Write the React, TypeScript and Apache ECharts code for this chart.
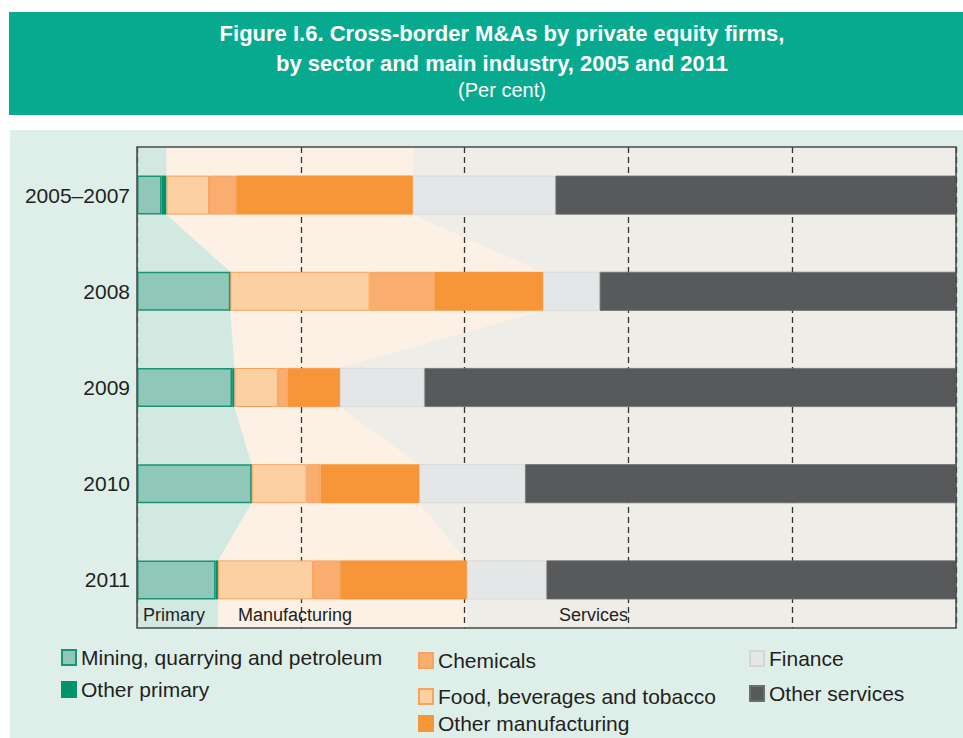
import React, { useEffect, useRef } from "react";
import * as echarts from "echarts";

const categories = ["2005–2007", "2008", "2009", "2010", "2011"];
const mining = [3.0, 11.4, 11.6, 14.0, 9.6];
const otherPrimary = [0.6, 0.0, 0.3, 0.0, 0.3];
const food = [5.2, 17.0, 5.3, 6.7, 11.6];
const chemicals = [3.3, 7.9, 1.2, 1.7, 3.3];
const otherManufacturing = [21.6, 13.3, 6.4, 12.1, 15.5];
const finance = [17.4, 6.9, 10.3, 12.9, 9.7];
const otherServices = [48.9, 43.5, 64.9, 52.6, 50.0];

const sectorLabels = ["Primary", "Manufacturing", "Services"];
const xTicks = [0, 20, 40, 60, 80, 100];

const FONT = "'Liberation Sans', Arial, Helvetica, sans-serif";
const BAR = 39;

export default function App() {
  const ref = useRef<HTMLDivElement>(null);
  useEffect(() => {
    if (!ref.current) return;
    const chart = echarts.init(ref.current, null, { renderer: "svg" });

    const primaryEnd = mining.map((v, i) => v + otherPrimary[i]);
    const mfgEnd = primaryEnd.map((v, i) => v + food[i] + chemicals[i] + otherManufacturing[i]);
    const total = mfgEnd.map((v, i) => v + finance[i] + otherServices[i]);
    const lefts = [mining.map(() => 0), primaryEnd, mfgEnd];
    const rights = [primaryEnd, mfgEnd, total];
    const regionColors = ["#d2e9e2", "#fdf1e5", "#efede7"];

    const renderRegion = (params: any, api: any) => {
      const r = api.value(2);
      const cs = params.coordSys;
      const top = cs.y;
      const bottom = cs.y + cs.height;
      const n = categories.length;
      const side = (vals: number[]) => {
        const pts: number[][] = [];
        for (let i = 0; i < n; i++) {
          const p = api.coord([vals[i], i]);
          if (i === 0) pts.push([p[0], top]);
          pts.push([p[0], p[1] - BAR / 2]);
          pts.push([p[0], p[1] + BAR / 2]);
          if (i === n - 1) pts.push([p[0], bottom]);
        }
        return pts;
      };
      const leftPts = side(lefts[r]);
      const rightPts = side(rights[r]).reverse();
      return {
        type: "polygon",
        shape: { points: leftPts.concat(rightPts) },
        style: { fill: regionColors[r] },
        silent: true,
      };
    };

    const barSeries = (name: string, data: number[], color: string, border: string, bw: number) => ({
      name,
      type: "bar",
      stack: "total",
      data,
      barWidth: BAR,
      z: 2,
      itemStyle: { color, borderColor: border, borderWidth: bw },
      emphasis: { disabled: true },
    });

    const legendBase = {
      icon: "rect",
      itemWidth: 14,
      itemHeight: 15,
      padding: 0,
      selectedMode: false,
      textStyle: { fontSize: 21, color: "#231f20", fontFamily: FONT },
    };

    chart.setOption({
      animation: false,
      backgroundColor: "#ffffff",
      title: {
        text: "Figure I.6. Cross-border M&As by private equity firms,\nby sector and main industry, 2005 and 2011",
        subtext: "(Per cent)",
        left: 497,
        textAlign: "center",
        top: 13,
        itemGap: 1,
        textStyle: { color: "#ffffff", fontSize: 22, fontWeight: "bold", lineHeight: 30, fontFamily: FONT },
        subtextStyle: { color: "#ffffff", fontSize: 20, lineHeight: 22, fontFamily: FONT },
      },
      graphic: [
        { type: "rect", z: -100, shape: { x: 9, y: 12, width: 954, height: 103 }, style: { fill: "#07aa8e" }, silent: true },
        { type: "rect", z: -100, shape: { x: 10, y: 130, width: 953, height: 608 }, style: { fill: "#deefe9" }, silent: true },
        { type: "text", z: 100, x: 143, y: 615, style: { text: sectorLabels[0], fontSize: 18, fill: "#231f20", fontFamily: FONT, textVerticalAlign: "middle", textAlign: "left" } },
        { type: "text", z: 100, x: 238, y: 615, style: { text: sectorLabels[1], fontSize: 18, fill: "#231f20", fontFamily: FONT, textVerticalAlign: "middle", textAlign: "left" } },
        { type: "text", z: 100, x: 628, y: 615, style: { text: sectorLabels[2], fontSize: 18, fill: "#231f20", fontFamily: FONT, textVerticalAlign: "middle", textAlign: "right" } },
      ],
      grid: {
        left: 137,
        right: 7,
        top: 147,
        bottom: 110,
        show: true,
        z: 3,
        backgroundColor: "transparent",
        borderColor: "#4a4a4a",
        borderWidth: 1.5,
      },
      xAxis: {
        type: "value",
        min: xTicks[0],
        max: xTicks[xTicks.length - 1],
        interval: 20,
        z: 1.5,
        axisLabel: { show: false },
        axisTick: { show: false },
        axisLine: { show: false },
        splitLine: { show: true, lineStyle: { color: "#333333", width: 1.3, type: [6, 4] } },
      },
      yAxis: {
        type: "category",
        inverse: true,
        data: categories,
        z: 1.5,
        axisTick: { show: false },
        axisLine: { show: true, lineStyle: { color: "#8a8a8a", width: 1 } },
        axisLabel: { fontSize: 21, color: "#231f20", margin: 7, fontFamily: FONT },
        splitLine: { show: false },
      },
      legend: [
        { ...legendBase, data: ["Mining, quarrying and petroleum"], left: 61, top: 647 },
        { ...legendBase, data: ["Other primary"], left: 61, top: 679 },
        { ...legendBase, data: ["Chemicals"], left: 418, top: 650 },
        { ...legendBase, data: ["Food, beverages and tobacco"], left: 418, top: 686 },
        { ...legendBase, data: ["Other manufacturing"], left: 418, top: 713 },
        { ...legendBase, data: ["Finance"], left: 749, top: 648 },
        { ...legendBase, data: ["Other services"], left: 749, top: 683 },
      ],
      series: [
        {
          type: "custom",
          name: "regions",
          z: 1,
          silent: true,
          clip: false,
          renderItem: renderRegion,
          encode: { x: 0, y: 1 },
          data: [
            [0, 0, 0],
            [0, 0, 1],
            [0, 0, 2],
          ],
        },
        barSeries("Mining, quarrying and petroleum", mining, "#8fc8b9", "#1a9474", 1.5),
        barSeries("Other primary", otherPrimary, "#00936f", "#00936f", 0.5),
        barSeries("Food, beverages and tobacco", food, "#fdd0a4", "#f7a35c", 1),
        barSeries("Chemicals", chemicals, "#f9ae6f", "#f8a35f", 1),
        barSeries("Other manufacturing", otherManufacturing, "#f79539", "#f79539", 0.5),
        barSeries("Finance", finance, "#e5e6e7", "#d4d5d6", 0.8),
        barSeries("Other services", otherServices, "#58595b", "#6d6e70", 0.8),
      ],
    });
    return () => chart.dispose();
  }, []);
  return <div ref={ref} style={{ position: "absolute", left: 0, top: 0, width: 963, height: 738 }} />;
}
